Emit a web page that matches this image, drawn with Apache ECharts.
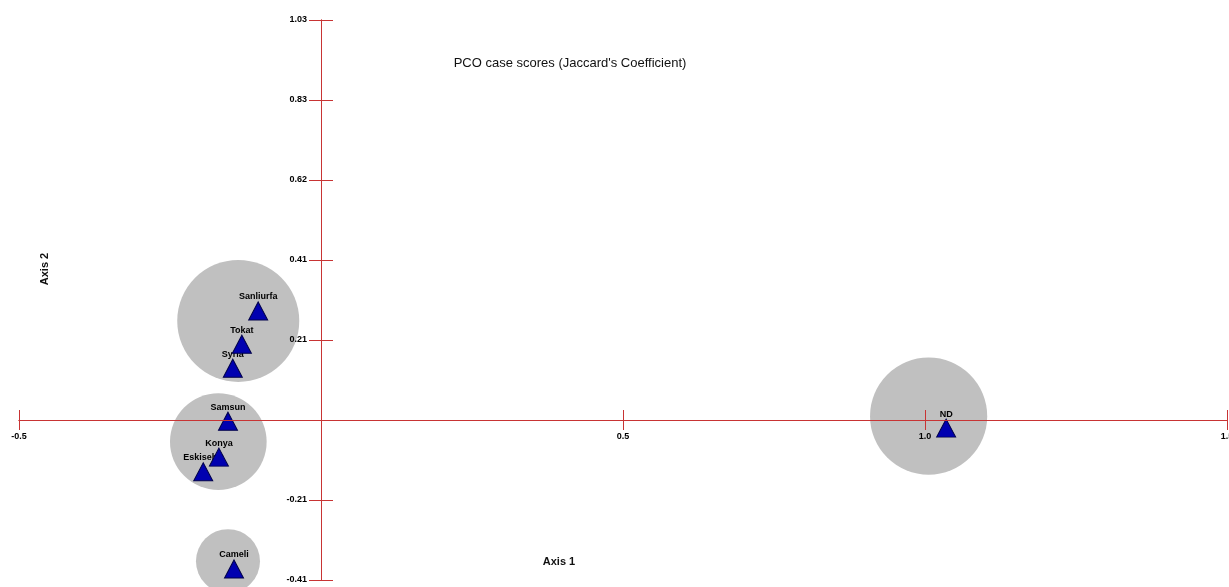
<!DOCTYPE html>
<html><head><meta charset="utf-8">
<script src="https://cdn.jsdelivr.net/npm/echarts@6/dist/echarts.min.js"></script>
<style>html,body{margin:0;padding:0;background:#fff}#c{width:1229px;height:587px}</style>
</head><body><div id="c"></div>
<script>
// ---- data ----
const caseNames   = ['Sanliurfa','Tokat','Syria','Samsun','Konya','Eskisehir','Cameli','ND'];
const axis1Scores = [-0.104,-0.131,-0.146,-0.154,-0.169,-0.195,-0.144,1.035];
const axis2Scores = [0.282,0.196,0.134,-0.003,-0.096,-0.134,-0.385,-0.021];
const groupCenterX = [-0.137,-0.170,-0.154,1.006];
const groupCenterY = [0.256,-0.056,-0.365,0.010];
const groupRadius  = [0.101,0.080,0.053,0.097]; // in Axis 1 units
const xRange = [-0.5, 1.5], xStep = 0.5;
const yRange = [-0.4136, 1.034], yStep = 0.2068;
const titleText = "PCO case scores (Jaccard's Coefficient)";
const xName = 'Axis 1', yName = 'Axis 2';

// ---- chart ----
const W = 1229, H = 587;
const FONT = '"Liberation Sans", Arial, sans-serif';
const RED = '#c83434';
const chart = echarts.init(document.getElementById('c'), null, {renderer: 'canvas'});
const points = caseNames.map((n, i) => ({name: n, value: [axis1Scores[i], axis2Scores[i]]}));
const circles = groupCenterX.map((x, i) => [x, groupCenterY[i]]);
const labelStyle = {fontSize: 9, fontWeight: 'bold', color: '#000', fontFamily: FONT};
const GRID = {left: 19, right: 2, top: 20, bottom: 7};
const fmtX = v => Math.abs(v) < 1e-9 ? '' : v.toFixed(1);
const fmtY = v => Math.abs(v) < 1e-9 ? '' : v.toFixed(2);

function ax(kind, gridIndex, pos, o) {
  const r = kind === 'x' ? xRange : yRange;
  const st = kind === 'x' ? xStep : yStep;
  return {
    type: 'value', gridIndex, min: r[0], max: r[1], interval: st, position: pos, z: 10,
    show: o.show !== false,
    axisLine: {show: !!o.line, onZero: !!o.onZero, lineStyle: {color: RED, width: 1}},
    axisTick: {show: !!o.tick, length: o.tickLen || 10, lineStyle: {color: RED, width: 1}},
    axisLabel: Object.assign({show: !!o.label, margin: o.margin || 8, showMinLabel: true, showMaxLabel: true,
      hideOverlap: false, formatter: kind === 'x' ? fmtX : fmtY}, labelStyle),
    splitLine: {show: false}
  };
}

let pxPerUnit = 604, zeroX = 321, zeroY = 420;
function buildOption() {
  return {
    animation: false,
    backgroundColor: '#fff',
    grid: [
      Object.assign({outerBoundsMode: 'none', containLabel: false}, GRID),
      // label carrier for Axis 2 ticks: left edge on x = 0
      {left: zeroX, right: GRID.right, top: GRID.top, bottom: GRID.bottom, outerBoundsMode: 'none', containLabel: false},
      // label carrier for Axis 1 ticks: bottom edge on y = 0
      {left: GRID.left, right: GRID.right, top: GRID.top, bottom: H - zeroY, outerBoundsMode: 'none', containLabel: false}
    ],
    xAxis: [
      ax('x', 0, 'bottom', {line: true, onZero: true, tick: true, tickLen: 10}),
      ax('x', 0, 'top', {line: true, onZero: true, tick: true, tickLen: 10}),
      ax('x', 1, 'bottom', {show: false}),
      ax('x', 2, 'bottom', {label: true, margin: 12})
    ],
    yAxis: [
      ax('y', 0, 'left', {line: true, onZero: true, tick: true, tickLen: 12}),
      ax('y', 0, 'right', {line: true, onZero: true, tick: true, tickLen: 12}),
      ax('y', 1, 'left', {label: true, margin: 14}),
      ax('y', 2, 'left', {show: false})
    ],
    graphic: [
      {type: 'text', x: 570, y: 63, silent: true,
        style: {text: titleText, font: '13px ' + FONT, fill: '#111', textAlign: 'center', textVerticalAlign: 'middle', verticalAlign: 'middle'}},
      {type: 'text', x: 559, y: 562, silent: true,
        style: {text: xName, font: 'bold 11px ' + FONT, fill: '#111', textAlign: 'center', textVerticalAlign: 'middle', verticalAlign: 'middle'}},
      {type: 'text', x: 45, y: 269, rotation: Math.PI / 2, silent: true,
        style: {text: yName, font: 'bold 11px ' + FONT, fill: '#111', textAlign: 'center', textVerticalAlign: 'middle', verticalAlign: 'middle'}}
    ],
    series: [
      {type: 'scatter', xAxisIndex: 0, yAxisIndex: 0, z: 2, silent: true, data: circles,
        symbol: 'circle', symbolSize: (v, p) => groupRadius[p.dataIndex] * 2 * pxPerUnit,
        itemStyle: {color: '#c0c0c0', opacity: 1}},
      {type: 'scatter', xAxisIndex: 0, yAxisIndex: 0, z: 3, silent: true, data: points,
        symbol: 'circle', symbolSize: 1, itemStyle: {color: 'rgba(0,0,0,0)'},
        label: Object.assign({show: true, position: 'top', distance: 9, formatter: '{b}', opacity: 1, textBorderWidth: 0}, labelStyle)},
      {type: 'scatter', xAxisIndex: 0, yAxisIndex: 0, z: 4, silent: true, data: points,
        symbol: 'triangle', symbolSize: [19, 18],
        itemStyle: {color: '#0000b0', borderColor: '#00004a', borderWidth: 1, opacity: 1}}
    ]
  };
}
chart.setOption(buildOption());
const p0 = chart.convertToPixel({xAxisIndex: 0}, 0);
const p1 = chart.convertToPixel({xAxisIndex: 0}, 1);
pxPerUnit = Math.abs(p1 - p0);
zeroX = p0;
zeroY = chart.convertToPixel({yAxisIndex: 0}, 0);
chart.setOption(buildOption(), true);
</script>
</body></html>
